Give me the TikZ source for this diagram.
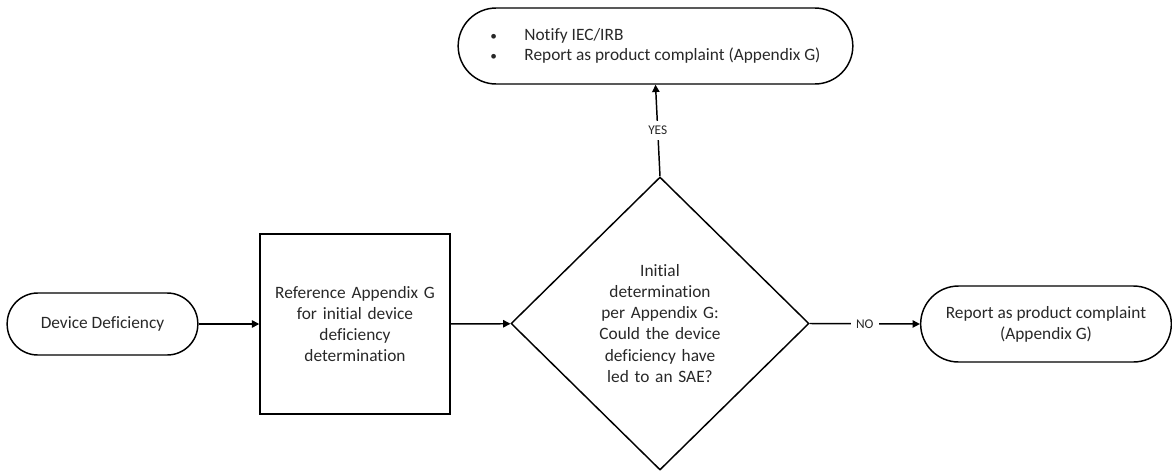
\documentclass[tikz,border=0pt]{standalone}
\usepackage{fontspec}
\setmainfont{Carlito}[Ligatures={NoCommon}]
\usetikzlibrary{arrows.meta,shapes.geometric}
\definecolor{txt}{RGB}{40,40,40}
\begin{document}
\begin{tikzpicture}[x=0.75pt,y=-0.75pt,
  every node/.style={font=\fontsize{13pt}{15.8pt}\selectfont, text=txt},
  base/.style={draw=black, line width=1.1pt, align=center, inner sep=0pt},
  stadium/.style={base, rounded corners=#1},
  boxnode/.style={base, rectangle},
  decision/.style={base, diamond, aspect=1.017},
  conn/.style={draw=black, line width=1.1pt, -{Triangle[length=5.5pt,width=5.5pt]}},
  lbl/.style={fill=white, font=\fontsize{10pt}{12pt}\selectfont, inner sep=4pt}
]
\useasboundingbox (0,0) rectangle (1172,472);
\node[stadium=23pt, minimum width=143pt, minimum height=46.5pt] (dev) at (102.5,324) {Device Deficiency};
\node[boxnode, minimum width=142.5pt, minimum height=135pt, text width=130pt] (ref) at (355,324)
  {Reference Appendix G\\for initial device\\deficiency\\determination};
\node[decision, minimum width=223.5pt, minimum height=219.75pt, text width=110pt] (dec) at (660,323.5)
  {Initial\\determination\\per Appendix G:\\Could the device\\deficiency have\\led to an SAE?};
\node[stadium=28.5pt, minimum width=296pt, minimum height=57pt] (top) at (655.5,46)
  {\begin{tabular}{@{}l@{\hspace{20.5pt}}l@{}}\fontsize{10pt}{12pt}\selectfont•& Notify IEC/IRB\\[-1pt] \fontsize{10pt}{12pt}\selectfont•& Report as product complaint (Appendix G)\end{tabular}};
\node[stadium=28.5pt, minimum width=188pt, minimum height=57pt] (rep) at (1046,324)
  {Report as product complaint\\(Appendix G)};
\draw[conn] (dev) -- (ref);
\draw[conn] (ref) -- (dec);
\draw[conn] (dec.north) -- node[lbl] {YES} (top.south);
\draw[conn] (dec.east) -- node[lbl, pos=0.5] {NO} (rep.west);
\end{tikzpicture}
\end{document}
